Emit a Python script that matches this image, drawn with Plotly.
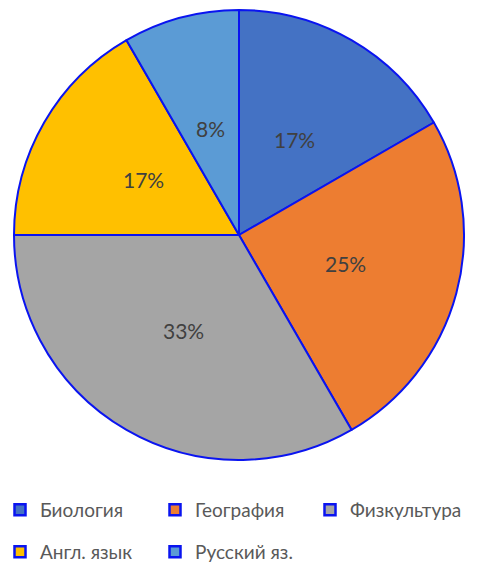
import numpy as np
import plotly.graph_objects as go

# Subjects and their counts
subjects = ["Биология", "География", "Физкультура", "Англ. язык", "Русский яз."]
counts = [2, 3, 4, 2, 1]
colors = ["#4472C4", "#ED7D31", "#A5A5A5", "#FFC000", "#5B9BD5"]

W, H = 477, 566
cx, cy, R = 239, 235, 225  # pie centre and radius in px

fig = go.Figure()
fig.add_trace(go.Pie(
    labels=subjects, values=counts, sort=False, direction="clockwise", rotation=0,
    marker=dict(colors=colors, line=dict(color="#0A14F0", width=2)),
    textinfo="none", hoverinfo="label+percent", showlegend=False,
    domain=dict(x=[(cx - R) / W, (cx + R) / W], y=[1 - (cy + R) / H, 1 - (cy - R) / H]),
))

# Percentage labels placed halfway along each slice's bisector
vals = np.array(counts, dtype=float)
share = vals / vals.sum()
ends = np.cumsum(share) * 360
mids = ends - share * 180
for p, a in zip(share, mids):
    ang = np.deg2rad(a)
    px = cx + 0.49 * R * np.sin(ang)
    py = cy - 0.49 * R * np.cos(ang)
    fig.add_annotation(x=px / W, y=1 - py / H, xref="paper", yref="paper",
                       xanchor="center", yanchor="middle",
                       text=f"{p:.0%}", showarrow=False,
                       font=dict(size=21, color="#404040", family="Lato, Noto Sans"))

# Legend entries split across two rows
for i, (name, col) in enumerate(zip(subjects, colors)):
    fig.add_trace(go.Scatter(
        x=[None], y=[None], mode="markers", name=name,
        marker=dict(symbol="square", size=11, color=col, line=dict(color="#0A14F0", width=2.5)),
        legend="legend" if i < 3 else "legend2", showlegend=True, hoverinfo="skip",
    ))

legend_style = dict(orientation="h", xanchor="left", yanchor="middle", x=0,
                    font=dict(size=19, color="#595959", family="Lato, Noto Sans"),
                    entrywidth=110, entrywidthmode="pixels", itemwidth=30,
                    bgcolor="rgba(0,0,0,0)", traceorder="normal")

fig.update_layout(
    width=W, height=H, margin=dict(l=0, r=0, t=0, b=0, autoexpand=False),
    paper_bgcolor="white", plot_bgcolor="white",
    xaxis=dict(visible=False), yaxis=dict(visible=False),
    legend=dict(**legend_style, y=1 - 510 / H),
    legend2=dict(**legend_style, y=1 - 552 / H),
)

fig.write_html("out.html")
